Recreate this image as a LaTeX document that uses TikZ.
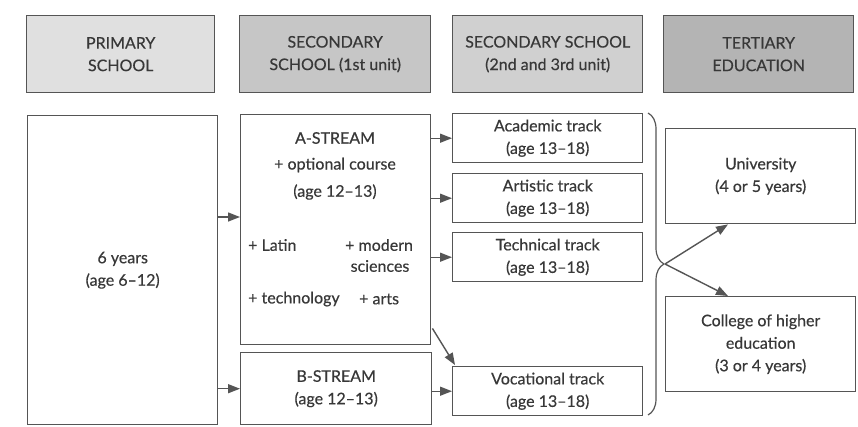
\documentclass[tikz,border=0pt]{standalone}
\usepackage{fontspec}
\setmainfont{Lato}[FakeBold=0.4]
\usetikzlibrary{arrows.meta,calc,decorations.pathreplacing}
\definecolor{ln}{HTML}{555555}
\definecolor{tx}{HTML}{383838}
\definecolor{hA}{HTML}{E0E0E0}
\definecolor{hB}{HTML}{C6C6C6}
\definecolor{hC}{HTML}{D0D0D0}
\definecolor{hD}{HTML}{B4B4B4}
\tikzset{
  box/.style={draw=ln, line width=1.4pt, anchor=north west, inner sep=0pt,
    text=tx, align=center, font=\fontsize{16}{22.5}\selectfont},
  lbl/.style={text=tx, inner sep=0pt, font=\fontsize{16}{22.5}\selectfont, align=center},
  arr/.style={draw=ln, line width=1.4pt, -{Triangle[length=12pt,width=9pt]}},
}
\begin{document}
\begin{tikzpicture}[x=1pt,y=-1pt]
\useasboundingbox[fill=white] (0,0) rectangle (858,426);
% headers
\node[box, fill=hA, minimum width=188pt, minimum height=77pt] (h1) at (26,15) {PRIMARY\\SCHOOL};
\node[box, fill=hB, minimum width=191pt, minimum height=77pt] (h2) at (239,15) {SECONDARY\\SCHOOL (1st unit)};
\node[box, fill=hC, minimum width=190pt, minimum height=77pt] (h3) at (452,15) {SECONDARY SCHOOL\\(2nd and 3rd unit)};
\node[box, fill=hD, minimum width=190pt, minimum height=77pt] (h4) at (663,15) {TERTIARY\\EDUCATION};
% primary
\node[box, minimum width=190pt, minimum height=309pt] (prim) at (27,115) {6 years\\(age 6--12)};
% secondary 1st unit
\node[box, minimum width=190pt, minimum height=230pt] (astream) at (240,114) {};
\node[lbl] (a1) at (335,138) {A-STREAM};
\node[lbl] (a2) at (335,165) {+ optional course};
\node[lbl] (a3) at (335,192) {(age 12--13)};
\node[lbl, anchor=west] (a4) at (248,245) {+ Latin};
\node[lbl, anchor=west] (a5) at (345,245) {+ modern};
\node[lbl] (a6) at (380,266) {sciences};
\node[lbl, anchor=west] (a7) at (248,299) {+ technology};
\node[lbl, anchor=west] (a8) at (359,299) {+ arts};
\node[box, minimum width=191pt, minimum height=72pt] (bstream) at (240,352) {B-STREAM\\(age 12--13)};
% tracks
\node[box, minimum width=190pt, minimum height=49pt] (acad) at (452,113) {Academic track\\(age 13--18)};
\node[box, minimum width=190pt, minimum height=49pt] (art) at (452,173) {Artistic track\\(age 13--18)};
\node[box, minimum width=190pt, minimum height=49pt] (tech) at (452,232) {Technical track\\(age 13--18)};
\node[box, minimum width=190pt, minimum height=49pt] (voc) at (452,366) {Vocational track\\(age 13--18)};
% tertiary
\node[box, minimum width=190pt, minimum height=95pt] (uni) at (665,128) {University\\(4 or 5 years)};
\node[box, minimum width=190pt, minimum height=95pt] (coll) at (665,296) {College of higher\\education\\(3 or 4 years)};
% brace
\draw[ln, line width=1.2pt, decorate, decoration={brace, amplitude=16pt, raise=0pt}] (648,113) -- (648,415);
\coordinate (tip) at (665,264);
% arrows
\draw[arr] (prim.east |- 0,217) -- (astream.west |- 0,217);
\draw[arr] (prim.east |- bstream.west) -- (bstream.west);
\draw[arr] (astream.east |- acad.west) -- (acad.west);
\draw[arr] (astream.east |- art.west) -- (art.west);
\draw[arr] (astream.east |- tech.west) -- (tech.west);
\draw[arr] ($(astream.south east)+(1,-17)$) -- ($(voc.north west)+(3,-1)$);
\draw[arr] (bstream.east |- voc.west) -- (voc.west);
\draw[arr] (tip) -- ($(uni.south west)+(63,0)$);
\draw[arr] (tip) -- ($(coll.north west)+(63,0)$);
\end{tikzpicture}
\end{document}
